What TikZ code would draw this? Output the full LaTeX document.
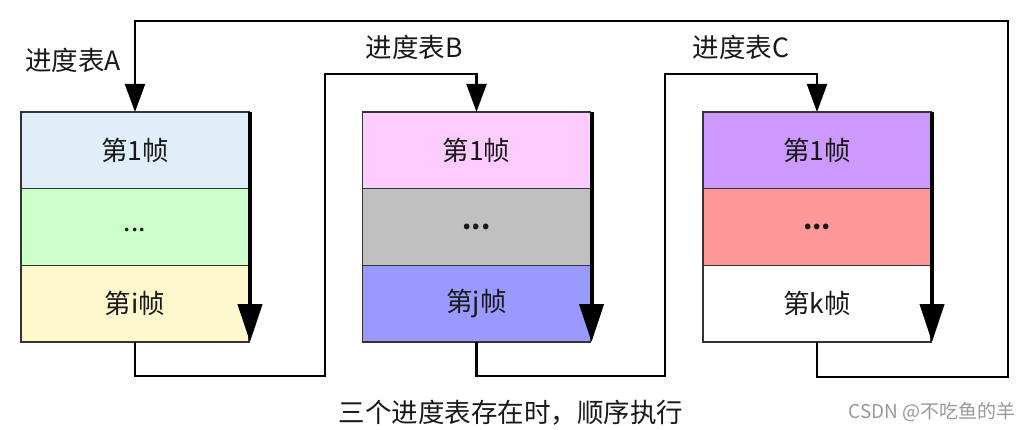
\documentclass[tikz,border=0pt]{standalone}
\usepackage{fontspec}
\setmainfont{Noto Sans CJK SC}
\usetikzlibrary{arrows.meta}
\definecolor{aone}{HTML}{E0EEFA}
\definecolor{atwo}{HTML}{CCFFCC}
\definecolor{athree}{HTML}{FFF8CC}
\definecolor{bone}{HTML}{FFCCFF}
\definecolor{btwo}{HTML}{C0C0C0}
\definecolor{bthree}{HTML}{9999FF}
\definecolor{cone}{HTML}{CC99FF}
\definecolor{ctwo}{HTML}{FF9999}
\definecolor{cthree}{HTML}{FFFFFF}
\definecolor{edge}{HTML}{333333}
\begin{document}
\begin{tikzpicture}[x=1pt,y=-1pt,
  row/.style={draw=edge, line width=1.2pt, minimum width=228pt, minimum height=76.7pt,
    inner sep=0pt, outer sep=0pt, font=\fontsize{26.5}{30}\selectfont, text=black!90},
  conn/.style={line width=2.2pt, -{Triangle[length=28pt,width=20pt]}},
  flow/.style={line width=4pt, -{Triangle[length=38pt,width=24pt]}},
  lbl/.style={font=\fontsize{26.5}{30}\selectfont, inner sep=0pt, text=black!90}
]
\useasboundingbox[fill=white] (0,0) rectangle (1033,430);

% table A
\node[row, fill=aone]   (a1) at (135,150.3) {第1帧};
\node[row, fill=atwo]   (a2) at (135,227)   {\raisebox{-5pt}[0pt][0pt]{...}};
\node[row, fill=athree] (a3) at (135,303.7) {第i帧};
% table B
\node[row, fill=bone]   (b1) at (476.5,150.3) {第1帧};
\node[row, fill=btwo]   (b2) at (476.5,227)   {\textbf{...}};
\node[row, fill=bthree] (b3) at (476.5,303.7) {第j帧};
% table C
\node[row, fill=cone]   (c1) at (817,150.3) {第1帧};
\node[row, fill=ctwo]   (c2) at (817,227)   {\textbf{...}};
\node[row, fill=cthree] (c3) at (817,303.7) {第k帧};

% flow arrows along right edges
\draw[flow] ([xshift=1pt]a1.north east) -- ([xshift=1pt]a3.south east);
\draw[flow] ([xshift=1pt]b1.north east) -- ([xshift=1pt]b3.south east);
\draw[flow] ([xshift=1pt]c1.north east) -- ([xshift=1pt]c3.south east);

% labels
\node[lbl] (la) at (73,60) {进度表A};
\node[lbl] (lb) at (414,47) {进度表B};
\node[lbl] (lc) at (741,47) {进度表C};

% connectors
\coordinate (p1) at (1008,377);
\coordinate (p2) at (135,21);
\draw[conn] (c3.south) |- (p1) |- (p2) -- (a1.north);

\coordinate (q1) at (325,376);
\coordinate (q2) at (476.5,74);
\draw[conn] (a3.south) |- (q1) |- (q2) -- (b1.north);

\coordinate (s1) at (665,376);
\coordinate (s2) at (817,74);
\draw[conn] (b3.south) |- (s1) |- (s2) -- (c1.north);

% caption and watermark
\node[lbl] (cap) at (511,413) {三个进度表存在时，顺序执行};
\node[font=\fontsize{19}{22}\selectfont, text=black!40, inner sep=0pt, anchor=east] (wm) at (1016,412) {CSDN @不吃鱼的羊};
\end{tikzpicture}
\end{document}
